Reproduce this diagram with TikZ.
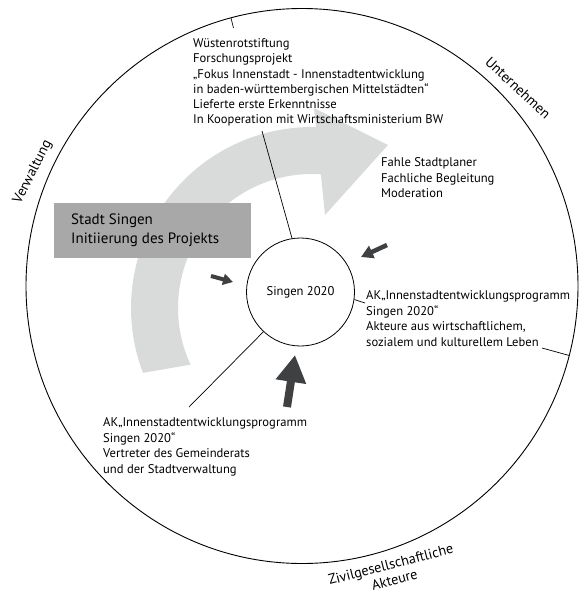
\documentclass[tikz,border=0pt]{standalone}
\usepackage{fontspec}
\setmainfont{PT Sans}
\usepackage{xcolor}
\usepackage{tikz}
\usetikzlibrary{calc, positioning, arrows.meta}
\definecolor{bandGrey}{RGB}{217,218,218}
\definecolor{boxGrey}{RGB}{168,168,168}
\definecolor{pushGrey}{RGB}{62,64,66}
\tikzset{
    txt/.style={inner sep=0pt, anchor=north west, align=left, font=\fontsize{12.6}{15.5}\selectfont},
    ringLabel/.style={inner sep=0pt, align=center, font=\fontsize{14.2}{15}\selectfont},
    initBox/.style={rectangle, fill=boxGrey, minimum width=197pt, minimum height=55pt, inner sep=0pt},
    hub/.style={circle, draw=black, line width=0.8pt, minimum size=108pt, inner sep=0pt, font=\fontsize{12.6}{14}\selectfont},
    link/.style={draw=black, line width=0.7pt},
    push/.style={draw=pushGrey, line width=#1}
}

\begin{document}
\begin{tikzpicture}[x=1pt, y=-1pt]
    \useasboundingbox (0,0) rectangle (587,592);
    \coordinate (ringC) at (302,286);
    \coordinate (arcC) at (312,308);

    % big grey arrow
    \fill[bandGrey] ([shift={(201:181pt)}]arcC) arc[start angle=201, end angle=88.7, radius=181pt]
        -- (314,108) -- (388,145) -- (325,215)
        -- ([shift={(86.2:134pt)}]arcC) arc[start angle=86.2, end angle=205, radius=134pt] -- cycle;

    % outer ring
    \draw[line width=0.9pt] (ringC) ellipse [x radius=276pt, y radius=277.5pt];

    \node[ringLabel, rotate=63] (verw) at (33,172) {Verwaltung};
    \node[ringLabel, rotate=-43] (untern) at (518,88) {Unternehmen};
    \node[ringLabel, rotate=14.5] (zivil) at (391,565.5) {Zivilgesellschaftliche};
    \node[ringLabel, rotate=14.5] (akteure) at (394.5,579.5) {Akteure};

    % centre and the groups round it
    \node[hub] (singen) at (300.5,292) {Singen 2020};
    \node[initBox] (stadt) at (152.5,230.5) {};
    \node[inner sep=0pt, anchor=west, align=left, font=\fontsize{15}{19}\selectfont] (stadtTxt) at (71,230.5)
        {Stadt Singen\\Initiierung des Projekts};

    \node[txt, font=\fontsize{12.6}{15.2}\selectfont] (stiftung) at (193,38.5) {Wüstenrotstiftung\\Forschungsprojekt\\„Fokus Innenstadt - Innenstadtentwicklung\\in baden-württembergischen Mittelstädten“\\Lieferte erste Erkenntnisse\\In Kooperation mit Wirtschaftsministerium BW};
    \node[txt] (planer) at (381,157.5) {Fahle Stadtplaner\\Fachliche Begleitung\\Moderation};
    \node[txt] (akRechts) at (366,290.5) {AK„Innenstadtentwicklungsprogramm\\Singen 2020“\\Akteure aus wirtschaftlichem,\\sozialem und kulturellem Leben};
    \node[txt] (akLinks) at (103,417.5) {AK„Innenstadtentwicklungsprogramm\\Singen 2020“\\Vertreter des Gemeinderats\\und der Stadtverwaltung};

    % connectors
    \coordinate (stiftTop) at (231,18);
    \coordinate (stiftIn) at (233.5,28);
    \coordinate (stiftOut) at (262,131);
    \coordinate (akRIn) at (365,303);
    \coordinate (akROut) at (542,348);
    \coordinate (akRRing) at ($(ringC)+(-14.5:276pt and 277.5pt)$);
    \coordinate (akLIn) at (189,407);
    \draw[link] (stiftTop) -- (stiftIn);
    \draw[link] (stiftOut) -- (singen.99);
    \draw[link] (singen.-8) -- (akRIn);
    \draw[link] (akROut) -- (akRRing);
    \draw[link] (singen.227) -- (akLIn);

    % dark arrows
    \coordinate (pushL) at (211,276);
    \coordinate (pushLTip) at (233,282);
    \coordinate (pushR) at (387,245);
    \coordinate (pushRTip) at (361,257);
    \coordinate (pushB) at (287,407);
    \coordinate (pushBTip) at (295,355);
    \draw[push=4pt, -{Triangle[length=10pt, width=11pt]}] (pushL) -- (pushLTip);
    \draw[push=4.5pt, -{Triangle[length=12pt, width=13pt]}] (pushR) -- (pushRTip);
    \draw[push=8pt, -{Triangle[length=27pt, width=29pt]}] (pushB) -- (pushBTip);
\end{tikzpicture}
\end{document}
